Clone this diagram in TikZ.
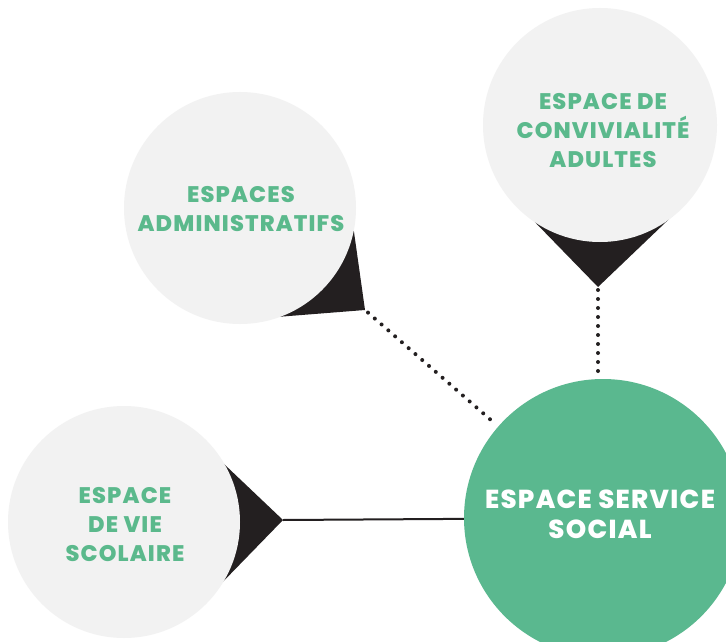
\documentclass[tikz,border=0pt]{standalone}
\usepackage{fontspec}
\newfontfamily\labelfont{Poppins}[LetterSpace=5, BoldFont={Poppins ExtraBold}]
\usetikzlibrary{calc}
\definecolor{bubblegrey}{HTML}{F2F2F2}
\definecolor{labelgreen}{HTML}{5BB98C}
\definecolor{socialgreen}{HTML}{5AB88F}
\definecolor{pointerblack}{HTML}{231F20}
\tikzset{
  bubble/.style={circle, fill=bubblegrey, inner sep=0pt},
  bubbletext/.style={inner sep=0pt, align=center, text=labelgreen,
    font=\labelfont\bfseries\fontsize{22.5}{29}\selectfont},
  mainbubble/.style={circle, fill=socialgreen, inner sep=0pt},
  maintext/.style={inner sep=0pt, align=center, text=white,
    font=\labelfont\bfseries\fontsize{26}{30}\selectfont},
  pointer/.style={fill=pointerblack},
  solidlink/.style={draw=pointerblack, line width=2pt},
  dotlink/.style={draw=pointerblack, line width=4pt, line cap=round, dash pattern=on 0pt off 9pt},
}
\begin{document}
\begin{tikzpicture}[x=1pt,y=-1pt]
\useasboundingbox (0,0) rectangle (726,642);
\fill[white] (0,0) rectangle (726,642);
\coordinate (adminc) at (240,208);
\coordinate (convc) at (600,125);
\coordinate (viec) at (124,522);
\coordinate (admintip) at (365,310);
\coordinate (convtip) at (598,287);
\coordinate (vietip) at (283,520);
% pointers
\fill[pointer] ($(adminc)+(9.7:115)$) -- (admintip) -- ($(adminc)+(71.4:115)$) -- cycle;
\fill[pointer] ($(convc)+(126.2:116)$) -- (convtip) -- ($(convc)+(50.2:116)$) -- cycle;
\fill[pointer] ($(viec)+(-31.2:115)$) -- (vietip) -- ($(viec)+(32.5:115)$) -- cycle;
% bubbles
\node[bubble, minimum size=232pt] (admin) at (adminc) {};
\node[bubble, minimum size=234pt] (conv) at (convc) {};
\node[bubble, minimum size=232pt] (vie) at (viec) {};
\node[mainbubble, minimum size=278pt] (social) at (603,518) {};
% texts
\node[bubbletext] (admintext) at ($(admin.center)+(1,1)$) {ESPACES\\ADMINISTRATIFS};
\node[bubbletext] (convtext) at ($(conv.center)+(3,6)$) {ESPACE DE\\CONVIVIALITÉ\\ADULTES};
\node[bubbletext] (vietext) at ($(vie.center)+(1,3)$) {ESPACE\\DE VIE\\SCOLAIRE};
\node[maintext] (socialtext) at ($(social.center)+(-3,-4)$) {ESPACE SERVICE\\SOCIAL};
% connectors
\draw[solidlink] (vietip) -- (social);
\draw[dotlink, shorten <=4pt, shorten >=6pt] (admintip) -- (social);
\draw[dotlink, shorten <=3pt, shorten >=6pt] (convtip) -- (convtip |- social.north);
\end{tikzpicture}
\end{document}
